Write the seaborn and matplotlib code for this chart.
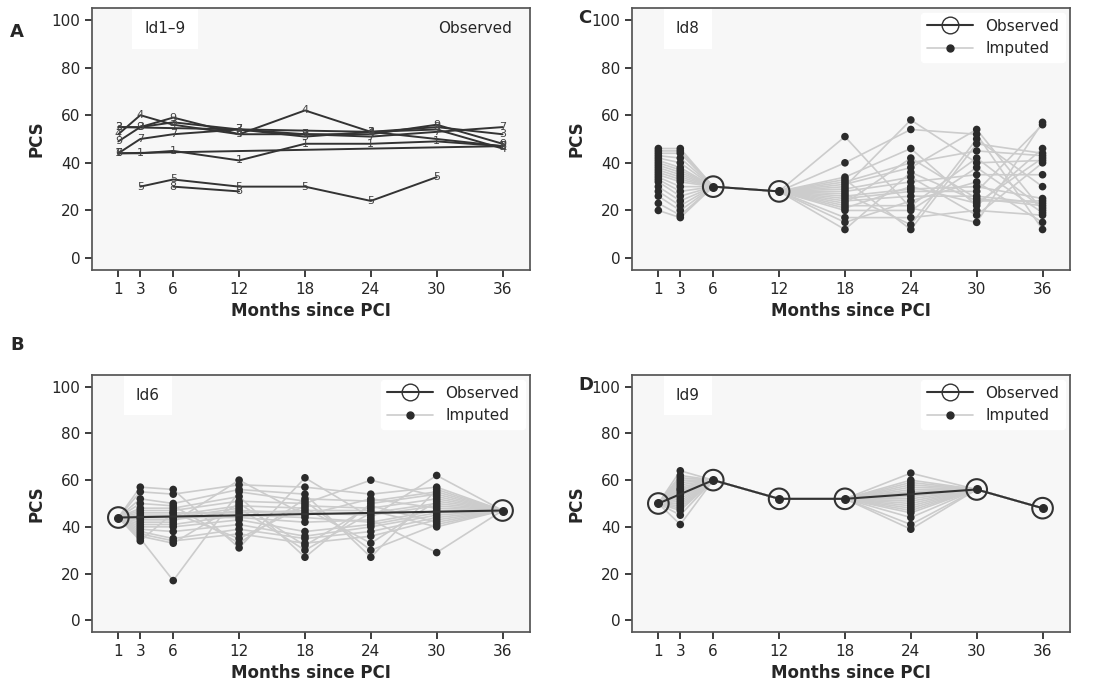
import numpy as np
import pandas as pd
import matplotlib
matplotlib.use("Agg")
import matplotlib.pyplot as plt
import seaborn as sns
from matplotlib.lines import Line2D

months = [1, 3, 6, 12, 18, 24, 30, 36]

# panel A: observed PCS per patient (None = missing)
observed = {
    "1": [44, 44, 45, 41, 48, 48, 49, 47],
    "2": [55, None, None, None, None, 53, None, 47],
    "3": [55, 55, 57, 54, 51, 53, 55, 52],
    "4": [52, 60, 56, 52, 62, 53, 54, 46],
    "5": [None, 30, 33, 30, 30, 24, 34, None],
    "6": [44, None, None, None, None, None, None, 47],
    "7": [44, 50, 52, 54, 52, 51, 53, 55],
    "8": [None, None, 30, 28, None, None, None, None],
    "9": [49, 55, 59, 52, 52, 52, 56, 48],
}

# imputed values at missing months, one list per month
id6_imp = {
    3: [57, 55, 52, 50, 48, 47, 46, 45, 44, 43, 42, 41, 40, 39, 38, 37, 36, 35, 34, 44],
    6: [56, 54, 50, 49, 48, 47, 46, 45, 44, 43, 42, 41, 40, 38, 35, 34, 33, 17, 46, 44],
    12: [31, 58, 56, 33, 53, 51, 35, 49, 48, 47, 60, 45, 43, 41, 39, 37, 50, 55, 46, 44],
    18: [61, 57, 54, 52, 27, 50, 49, 48, 30, 46, 45, 44, 38, 36, 35, 33, 32, 51, 47, 42],
    24: [44, 54, 27, 51, 50, 60, 48, 33, 46, 45, 52, 42, 41, 40, 38, 36, 49, 30, 47, 43],
    30: [62, 57, 56, 55, 54, 53, 52, 51, 50, 49, 48, 47, 46, 45, 44, 43, 42, 41, 40, 29],
}
id8_imp = {
    1: [46, 45, 44, 43, 42, 41, 40, 39, 38, 37, 36, 35, 34, 33, 32, 30, 28, 26, 23, 20],
    3: [46, 45, 44, 42, 40, 38, 37, 36, 35, 34, 33, 32, 30, 28, 26, 24, 22, 20, 18, 17],
    18: [51, 40, 34, 33, 32, 31, 30, 29, 28, 27, 26, 25, 24, 23, 22, 21, 20, 17, 15, 12],
    24: [21, 54, 46, 12, 40, 38, 58, 34, 32, 14, 29, 28, 26, 42, 22, 30, 20, 17, 24, 36],
    30: [15, 52, 22, 48, 45, 54, 40, 18, 35, 50, 30, 28, 26, 25, 42, 23, 38, 20, 32, 24],
    36: [57, 12, 46, 44, 43, 20, 41, 40, 35, 30, 25, 56, 23, 22, 21, 42, 19, 18, 15, 24],
}
id9_imp = {
    3: [64, 62, 61, 60, 59, 58, 57, 56, 56, 55, 54, 53, 52, 51, 50, 49, 48, 47, 45, 41],
    24: [63, 60, 59, 58, 57, 56, 55, 55, 54, 53, 52, 51, 50, 49, 48, 47, 46, 44, 41, 39],
}

sns.set_theme(style="white")
plt.rcParams["font.family"] = ["DejaVu Sans"]

fig = plt.figure(figsize=(11.06, 7), dpi=100)
W, H = 1106, 700


def make_ax(x0, y0, x1, y1):
    return fig.add_axes([x0 / W, 1 - y1 / H, (x1 - x0) / W, (y1 - y0) / H])


def style(ax):
    ax.set_facecolor("#f7f7f7")
    ax.set_xlim(-1.4, 38.5)
    ax.set_ylim(-5, 105)
    ax.set_xticks(months)
    ax.set_yticks(range(0, 101, 20))
    ax.tick_params(axis="both", labelsize=11, length=5, direction="out", bottom=True, left=True)
    for s in ax.spines.values():
        s.set_color("#555555")


def label_box(ax, text, x, y):
    ax.text(x, y, text, transform=ax.transAxes, fontsize=11, va="center",
            bbox=dict(boxstyle="square,pad=0.8", fc="white", ec="none"))


def axis_labels(ax):
    ax.set_xlabel("Months since PCI", fontsize=12, fontweight="bold")
    ax.set_ylabel("PCS", fontsize=12, fontweight="bold")


def draw_imputed(ax, obs, imp):
    n = len(next(iter(imp.values())))
    rows = []
    for k in range(n):
        for m, v in zip(months, obs):
            val = v if v is not None else (imp[m][k] if m in imp else None)
            if val is not None:
                rows.append({"imp": k, "month": m, "pcs": val})
    df = pd.DataFrame(rows)
    sns.lineplot(data=df, x="month", y="pcs", units="imp", estimator=None,
                 color="#cccccc", lw=1.2, ax=ax, zorder=1)
    pts = pd.DataFrame([{"month": m, "pcs": v} for m, vals in imp.items() for v in vals])
    sns.scatterplot(data=pts, x="month", y="pcs", color="#2b2b2b", s=30,
                    edgecolor="none", ax=ax, zorder=3)
    od = pd.DataFrame({"month": months, "pcs": obs}).dropna()
    ax.plot(od["month"], od["pcs"], color="#333333", lw=1.5, zorder=4)
    ax.scatter(od["month"], od["pcs"], s=220, facecolor="none", edgecolor="#333333", lw=1.5, zorder=5)
    ax.scatter(od["month"], od["pcs"], s=30, color="#2b2b2b", zorder=6)
    handles = [Line2D([], [], color="#333333", marker="o", mfc="none", ms=12, lw=1.5),
               Line2D([], [], color="#cccccc", marker="o", mfc="#2b2b2b", mec="#2b2b2b", ms=5, lw=1.2)]
    ax.legend(handles, ["Observed", "Imputed"], loc="upper right", frameon=True, fontsize=11,
              facecolor="white", edgecolor="white", framealpha=1, handlelength=3, borderaxespad=0.3)
    axis_labels(ax)


# panel A
axA = make_ax(92, 8, 530, 270)
style(axA)
rowsA = [{"id": k, "month": m, "pcs": v} for k, vals in observed.items()
         for m, v in zip(months, vals) if v is not None]
dfA = pd.DataFrame(rowsA)
sns.lineplot(data=dfA, x="month", y="pcs", units="id", estimator=None, color="#333333", lw=1.4, ax=axA)
for r in rowsA:
    axA.text(r["month"], r["pcs"], r["id"], ha="center", va="center", fontsize=8, color="#444444")
axis_labels(axA)
label_box(axA, "Id1–9", 0.12, 0.92)
axA.text(0.96, 0.92, "Observed", transform=axA.transAxes, fontsize=11, ha="right", va="center")

axC = make_ax(632, 8, 1070, 270)
style(axC)
draw_imputed(axC, [None, None, 30, 28, None, None, None, None], id8_imp)
label_box(axC, "Id8", 0.1, 0.92)

axB = make_ax(92, 375, 530, 632)
style(axB)
draw_imputed(axB, [44, None, None, None, None, None, None, 47], id6_imp)
label_box(axB, "Id6", 0.1, 0.92)

axD = make_ax(632, 375, 1070, 632)
style(axD)
draw_imputed(axD, [50, None, 60, 52, 52, None, 56, 48], id9_imp)
label_box(axD, "Id9", 0.1, 0.92)

for t, x, y in [("A", 10, 32), ("C", 578, 18), ("B", 10, 345), ("D", 578, 385)]:
    fig.text(x / W, 1 - y / H, t, fontsize=13, fontweight="bold", va="center")

fig.savefig("out.png", dpi=100)
